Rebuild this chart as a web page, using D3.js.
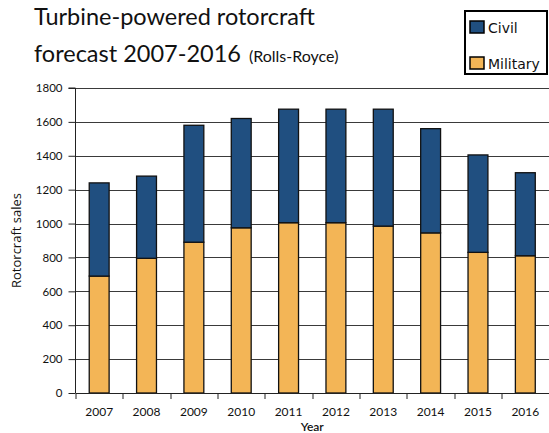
<!DOCTYPE html>
<html>
<head>
<meta charset="utf-8">
<style>
  body { margin: 0; background: #fff; }
  svg { display: block; }
</style>
</head>
<body>
<svg width="549" height="433"></svg>
<script src="https://d3js.org/d3.v7.min.js"></script>
<script>
var years = ["2007", "2008", "2009", "2010", "2011", "2012", "2013", "2014", "2015", "2016"];
var military = [690, 795, 890, 975, 1005, 1005, 985, 945, 830, 810];
var civil = [550, 485, 690, 645, 670, 670, 690, 615, 575, 490];
var yTicks = [0, 200, 400, 600, 800, 1000, 1200, 1400, 1600, 1800];

var colCivil = "#204f80", colMil = "#f3b556";

var svg = d3.select("svg"),
    margin = {top: 88, right: 0, bottom: 40, left: 75.5},
    width = +svg.attr("width") - margin.left - margin.right,
    height = +svg.attr("height") - margin.top - margin.bottom,
    g = svg.append("g").attr("transform", "translate(" + margin.left + "," + margin.top + ")");

var data = years.map(function(y, i) { return {year: y, military: military[i], civil: civil[i]}; });
var stack = d3.stack().keys(["military", "civil"])(data);

var x = d3.scaleBand().domain(years).range([0, width]).paddingInner(0.58).paddingOuter(0.29);
var y = d3.scaleLinear().domain([0, 1800]).range([height, 0]);

// gridlines
g.append("g")
    .selectAll("line")
    .data(yTicks.slice(1))
    .enter().append("line")
    .attr("x1", 0).attr("x2", width)
    .attr("y1", function(d) { return Math.round(y(d)) + 0.5; })
    .attr("y2", function(d) { return Math.round(y(d)) + 0.5; })
    .attr("stroke", "#3a3a3a")
    .attr("stroke-width", 1.2);

// bars
g.selectAll(".layer")
    .data(stack)
    .enter().append("g")
    .attr("fill", function(d) { return d.key == "civil" ? colCivil : colMil; })
    .selectAll("rect")
    .data(function(d) { return d; })
    .enter().append("rect")
    .attr("x", function(d) { return x(d.data.year); })
    .attr("y", function(d) { return y(d[1]); })
    .attr("width", x.bandwidth())
    .attr("height", function(d) { return y(d[0]) - y(d[1]); })
    .attr("stroke", "#111")
    .attr("stroke-width", 1.3);

// y axis
var yAxis = g.append("g")
    .call(d3.axisLeft(y).tickValues(yTicks).tickSize(7).tickPadding(6).tickFormat(d3.format("d")));
yAxis.selectAll("text").attr("font-family", "Lato, 'Open Sans', sans-serif").attr("font-size", 11.5).attr("fill", "#111");
yAxis.selectAll("line").attr("stroke", "#222");
yAxis.select(".domain").attr("d", "M-7," + y(1800) + "H0V" + height).attr("stroke", "#222");

// x axis: ticks between bands
var xAxis = g.append("g").attr("transform", "translate(0," + height + ")")
    .call(d3.axisBottom(x).tickSize(0).tickPadding(14));
xAxis.select(".domain").attr("stroke", "#222");
xAxis.selectAll("text").attr("font-family", "Lato, 'Open Sans', sans-serif").attr("font-size", 12).attr("fill", "#111");
g.append("g").attr("transform", "translate(0," + height + ")")
    .selectAll("line")
    .data(years)
    .enter().append("line")
    .attr("x1", function(d) { return Math.round(x(d) - x.step() * 0.29) + 0.5; })
    .attr("x2", function(d) { return Math.round(x(d) - x.step() * 0.29) + 0.5; })
    .attr("y1", 0).attr("y2", 6)
    .attr("stroke", "#222");

// axis titles
svg.append("text")
    .attr("transform", "translate(21," + (margin.top + height / 2) + ") rotate(-90)")
    .attr("text-anchor", "middle")
    .attr("font-family", "'Open Sans', sans-serif")
    .attr("font-size", 13)
    .attr("fill", "#111")
    .text("Rotorcraft sales");

svg.append("text")
    .attr("x", margin.left + width / 2)
    .attr("y", 431)
    .attr("text-anchor", "middle")
    .attr("font-family", "Lato, 'Open Sans', sans-serif")
    .attr("font-size", 12)
    .attr("font-weight", 600)
    .attr("fill", "#111")
    .text("Year");

// title
svg.append("text")
    .attr("x", 34).attr("y", 25)
    .attr("font-family", "Lato, sans-serif")
    .attr("font-size", 23.5)
    .attr("fill", "#111")
    .text("Turbine-powered rotorcraft");
var t2 = svg.append("text")
    .attr("x", 34).attr("y", 62)
    .attr("font-family", "Lato, sans-serif")
    .attr("fill", "#111");
t2.append("tspan").attr("font-size", 23.5).text("forecast 2007-2016");
t2.append("tspan").attr("font-size", 16).attr("dx", 8).text("(Rolls-Royce)");

// legend
var leg = svg.append("g");
leg.append("rect")
    .attr("x", 465).attr("y", 11).attr("width", 82).attr("height", 63)
    .attr("fill", "#fff").attr("stroke", "#000").attr("stroke-width", 2);
var legItems = [{name: "Civil", color: colCivil}, {name: "Military", color: colMil}];
leg.selectAll(".it")
    .data(legItems)
    .enter().append("g")
    .attr("transform", function(d, i) { return "translate(470," + (21 + i * 36) + ")"; })
    .each(function(d) {
        var s = d3.select(this);
        s.append("rect").attr("width", 14).attr("height", 12)
            .attr("fill", d.color).attr("stroke", "#000").attr("stroke-width", 1.5);
        s.append("text").attr("x", 18).attr("y", 11.5)
            .attr("font-family", "'DejaVu Sans', Verdana, sans-serif")
            .attr("font-size", 14)
            .attr("fill", "#111")
            .text(d.name);
    });
</script>
</body>
</html>
